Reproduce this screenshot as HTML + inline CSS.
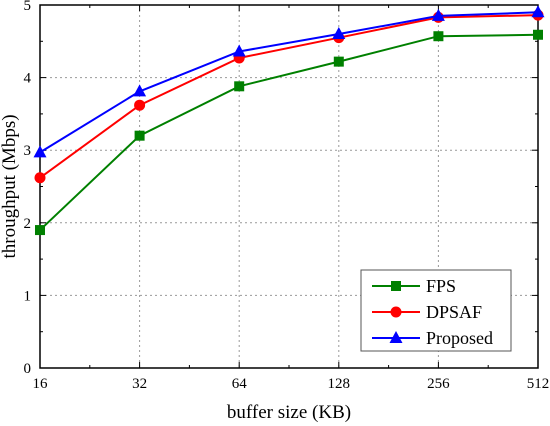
<!DOCTYPE html>
<html><head><meta charset="utf-8"><style>
body{margin:0;background:#fff}
svg{display:block;font-family:"Liberation Serif",serif}
</style></head><body>
<svg id="c" width="550" height="426"></svg>
<script>
const categories=["16","32","64","128","256","512"];
const fps=[1.9,3.2,3.88,4.22,4.57,4.59];
const dpsaf=[2.62,3.62,4.27,4.55,4.83,4.86];
const proposed=[2.97,3.81,4.36,4.6,4.85,4.9];
const yTicks=[0,1,2,3,4,5];
const seriesNames=["FPS","DPSAF","Proposed"];
const NS="http://www.w3.org/2000/svg";
const svg=document.getElementById('c');
const L=40,R=538,T=5,B=368;
const xs=i=>L+i*(R-L)/(categories.length-1);
const ys=v=>B-(v/5)*(B-T);
function el(t,a,p){const e=document.createElementNS(NS,t);for(const k in a)e.setAttribute(k,a[k]);(p||svg).appendChild(e);return e;}
// grid
categories.forEach((c,i)=>{if(i>0&&i<categories.length-1){const g=el('line',{x1:xs(i),x2:xs(i),y1:T,y2:B,stroke:'#999','stroke-dasharray':'2,3'});

}});
yTicks.forEach(v=>{if(v>0&&v<5){const g=el('line',{x1:L,x2:R,y1:ys(v),y2:ys(v),stroke:'#999','stroke-dasharray':'2,3'});

}});
// frame
const f=el('rect',{x:L,y:T,width:R-L,height:B-T,fill:'none',stroke:'#000','stroke-width':1.5});


// ticks
categories.forEach((c,i)=>{
 el('line',{x1:xs(i),x2:xs(i),y1:B,y2:B-6,stroke:'#000'});
 el('line',{x1:xs(i),x2:xs(i),y1:T,y2:T+6,stroke:'#000'});
 if(i<categories.length-1){const m=(xs(i)+xs(i+1))/2;el('line',{x1:m,x2:m,y1:B,y2:B-3,stroke:'#000'});el('line',{x1:m,x2:m,y1:T,y2:T+3,stroke:'#000'});}
 const t=el('text',{x:xs(i),y:B+20,'text-anchor':'middle','font-size':15});t.textContent=c;
 
 
});
yTicks.forEach((v,i)=>{
 el('line',{x1:L,x2:L+6,y1:ys(v),y2:ys(v),stroke:'#000'});
 el('line',{x1:R,x2:R-6,y1:ys(v),y2:ys(v),stroke:'#000'});
 if(i<yTicks.length-1){const m=ys(v+0.5);el('line',{x1:L,x2:L+3,y1:m,y2:m,stroke:'#000'});el('line',{x1:R,x2:R-3,y1:m,y2:m,stroke:'#000'});}
 const t=el('text',{x:L-9,y:ys(v)+5,'text-anchor':'end','font-size':15});t.textContent=v;
 
 
});
const xt=el('text',{x:(L+R)/2,y:418,'text-anchor':'middle','font-size':19});xt.textContent='buffer size (KB)';


const yt=el('text',{x:0,y:0,'text-anchor':'middle','font-size':19,transform:`translate(15,${(T+B)/2}) rotate(-90)`});yt.textContent='throughput (Mbps)';


function marker(kind,x,y,color,parent){
 if(kind==='sq')return el('rect',{x:x-5,y:y-5,width:10,height:10,fill:color},parent);
 if(kind==='ci')return el('circle',{cx:x,cy:y,r:5.5,fill:color},parent);
 return el('polygon',{points:`${x},${y-7} ${x-6.5},${y+5} ${x+6.5},${y+5}`,fill:color},parent);
}
const series=[[fps,'#008000','sq'],[dpsaf,'#ff0000','ci'],[proposed,'#0000ff','tr']];
series.forEach(([d,col,m],si)=>{
 const g=el('g',{});
 
 
 el('polyline',{points:d.map((v,i)=>xs(i)+','+ys(v)).join(' '),fill:'none',stroke:col,'stroke-width':2},g);
 d.forEach((v,i)=>{const mk=marker(m,xs(i),ys(v),col,g);
  
  });
});
// legend
const lg=el('g',{});


el('rect',{x:361,y:270,width:150,height:81,fill:'#fff',stroke:'#555'},lg);
series.forEach(([d,col,m],i)=>{
 const y=286+i*26;
 const e=el('g',{},lg);
 
 
 el('line',{x1:372,x2:420,y1:y,y2:y,stroke:col,'stroke-width':2},e);
 marker(m,396,y,col,e);
 const t=el('text',{x:426,y:y+6,'font-size':18},e);t.textContent=seriesNames[i];
});
</script>
</body></html>
